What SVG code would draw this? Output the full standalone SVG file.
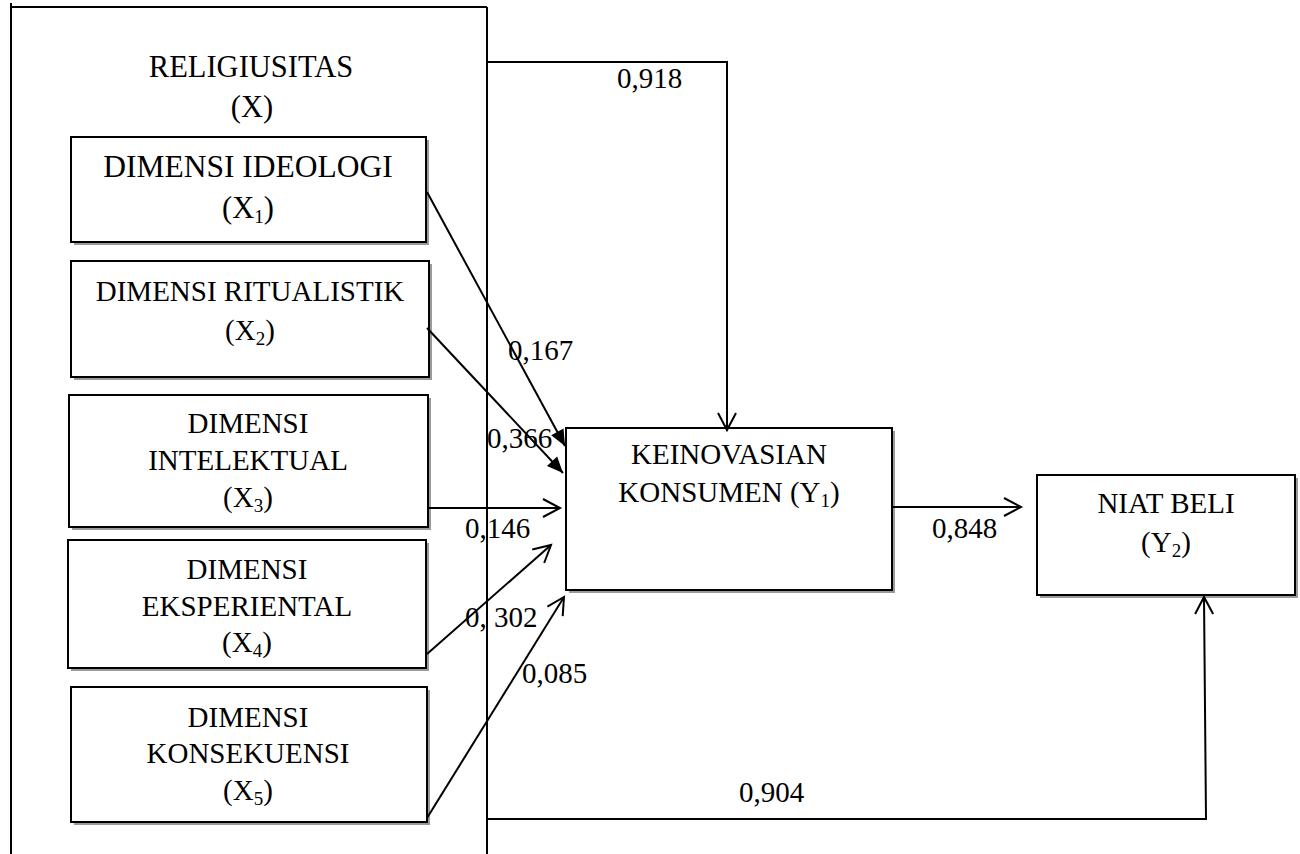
<svg xmlns="http://www.w3.org/2000/svg" width="1300" height="854" viewBox="0 0 1300 854">
<style>
text{font-family:"Liberation Serif","Times New Roman",serif;fill:#000}
.t{font-size:29px;text-anchor:middle}
.l{font-size:29px}
.sub{font-size:19px}
.box{fill:#fff;stroke:#000;stroke-width:2}
.sh{fill:#9a9a9a}
.c{fill:none;stroke:#000;stroke-width:2}
</style>
<defs>
<marker id="open" markerUnits="userSpaceOnUse" markerWidth="20" markerHeight="20" refX="17" refY="9" orient="auto" overflow="visible">
<path d="M0,0 L17,9 L0,18" fill="none" stroke="#000" stroke-width="2"/>
</marker>
<marker id="fill" markerUnits="userSpaceOnUse" markerWidth="20" markerHeight="20" refX="16" refY="7" orient="auto" overflow="visible">
<path d="M0,0 L16,7 L0,14 z" fill="#000"/>
</marker>
</defs>
<g id="frame">
<path class="c" d="M11,3 V854 M11,7 H487 M487,7 V854"/>
<text class="t" x="251" y="77" style="font-size:30.5px">RELIGIUSITAS</text>
<text class="t" x="252" y="117" style="font-size:30.5px">(X)</text>
</g>
<g id="x1">
<rect class="sh" x="74" y="140" width="355" height="105"/>
<rect class="box" x="71" y="137" width="355" height="105"/>
<text class="t" x="248" y="177" style="font-size:31.5px">DIMENSI IDEOLOGI</text>
<text class="t" x="248" y="218" style="font-size:30.5px">(X<tspan class="sub" dy="5">1</tspan><tspan dy="-5">)</tspan></text>
</g>
<g id="x2">
<rect class="sh" x="74" y="264" width="358" height="116"/>
<rect class="box" x="71" y="261" width="358" height="116"/>
<text class="t" x="250" y="301">DIMENSI RITUALISTIK</text>
<text class="t" x="250" y="340">(X<tspan class="sub" dy="5">2</tspan><tspan dy="-5">)</tspan></text>
</g>
<g id="x3">
<rect class="sh" x="72" y="398" width="359" height="132"/>
<rect class="box" x="69" y="395" width="359" height="132"/>
<text class="t" x="248" y="433">DIMENSI</text>
<text class="t" x="248" y="470">INTELEKTUAL</text>
<text class="t" x="248" y="507">(X<tspan class="sub" dy="5">3</tspan><tspan dy="-5">)</tspan></text>
</g>
<g id="x4">
<rect class="sh" x="71" y="543" width="358" height="128"/>
<rect class="box" x="68" y="540" width="358" height="128"/>
<text class="t" x="247" y="579">DIMENSI</text>
<text class="t" x="247" y="616">EKSPERIENTAL</text>
<text class="t" x="247" y="652">(X<tspan class="sub" dy="5">4</tspan><tspan dy="-5">)</tspan></text>
</g>
<g id="x5">
<rect class="sh" x="74" y="690" width="356" height="135"/>
<rect class="box" x="71" y="687" width="356" height="135"/>
<text class="t" x="248" y="727">DIMENSI</text>
<text class="t" x="248" y="763">KONSEKUENSI</text>
<text class="t" x="248" y="800">(X<tspan class="sub" dy="5">5</tspan><tspan dy="-5">)</tspan></text>
</g>
<g id="y1">
<rect class="sh" x="569" y="431" width="326" height="162"/>
<rect class="box" x="566" y="428" width="326" height="162"/>
<text class="t" x="729" y="464">KEINOVASIAN</text>
<text class="t" x="729" y="502">KONSUMEN (Y<tspan class="sub" dy="5">1</tspan><tspan dy="-5">)</tspan></text>
</g>
<g id="y2">
<rect class="sh" x="1040" y="478" width="258" height="120"/>
<rect class="box" x="1037" y="475" width="258" height="120"/>
<text class="t" x="1166" y="513">NIAT BELI</text>
<text class="t" x="1166" y="552">(Y<tspan class="sub" dy="5">2</tspan><tspan dy="-5">)</tspan></text>
</g>
<g id="connectors">
<path class="c" d="M487,62 H727 V430" marker-end="url(#open)"/>
<path class="c" d="M427,192 L565,446" marker-end="url(#fill)"/>
<path class="c" d="M427,328 L563,473" marker-end="url(#fill)"/>
<path class="c" d="M428,508 L560,508" marker-end="url(#open)"/>
<path class="c" d="M427,654 L551,545" marker-end="url(#open)"/>
<path class="c" d="M427,818 L564,597" marker-end="url(#open)"/>
<path class="c" d="M892,507 L1021,507" marker-end="url(#open)"/>
<path class="c" d="M487,819 H1206 L1204,597" marker-end="url(#open)"/>
<text class="l" x="617" y="88">0,918</text>
<text class="l" x="508" y="360">0,167</text>
<text class="l" x="487" y="448">0,366</text>
<text class="l" x="465" y="538">0,146</text>
<text class="l" x="465" y="627">0, 302</text>
<text class="l" x="522" y="683">0,085</text>
<text class="l" x="932" y="538">0,848</text>
<text class="l" x="739" y="802">0,904</text>
</g>
</svg>
